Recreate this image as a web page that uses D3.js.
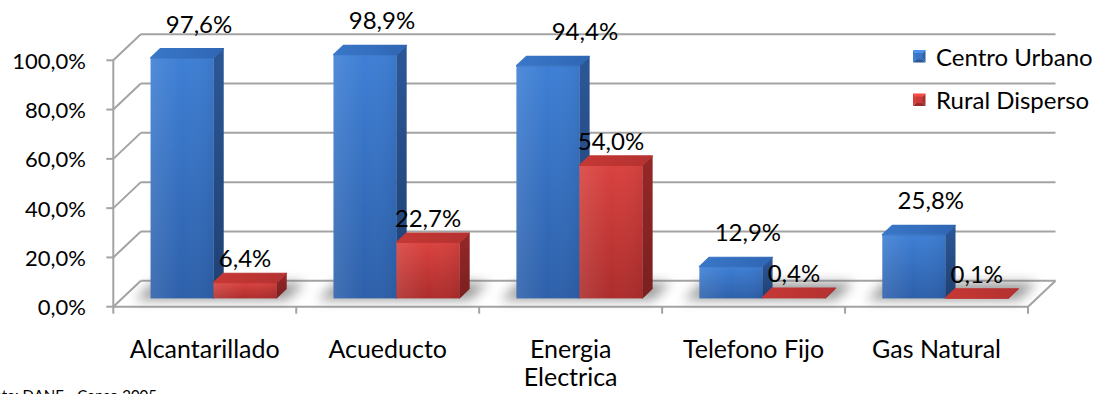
<!DOCTYPE html>
<html>
<head>
<meta charset="utf-8">
<script src="https://cdn.jsdelivr.net/npm/d3@7"></script>
<style>
  html, body { margin: 0; padding: 0; background: #ffffff; overflow: hidden; }
  svg { display: block; font-family: Lato, "Noto Sans", sans-serif; }
</style>
</head>
<body>
<svg id="chart" width="1103" height="394"></svg>
<script>
// ---- data ----
const categories = ["Alcantarillado", "Acueducto", "Energia Electrica", "Telefono Fijo", "Gas Natural"];
const categoryLabels = [["Alcantarillado"], ["Acueducto"], ["Energia", "Electrica"], ["Telefono Fijo"], ["Gas Natural"]];
const seriesNames = ["Centro Urbano", "Rural Disperso"];
const centroUrbano = [97.6, 98.9, 94.4, 12.9, 25.8];
const ruralDisperso = [6.4, 22.7, 54.0, 0.4, 0.1];
const yTicks = [0, 20, 40, 60, 80, 100];
const sourceText = "Fuente: DANE - Censo 2005";

// ---- layout ----
const svg = d3.select("#chart");
svg.append("rect").attr("width", 1103).attr("height", 394).attr("fill", "#fff");

const frontLeft = 113.3, frontRight = 1028;
const D = { x: 27.5, y: -26 };       // full floor depth vector
const t1 = 0.32, t2 = 0.68;           // bar front / back depth fractions
const gridColor = "#a3a3a3";

const x = d3.scaleBand().domain(categories).range([frontLeft, frontRight]).paddingInner(0).paddingOuter(0);
const xs = d3.scaleBand().domain(seriesNames).range([0, x.bandwidth()]).paddingInner(0).paddingOuter(0.4516);
const y = d3.scaleLinear().domain([0, 100]).range([306.7, 60.3]);

const fmt = v => d3.format(".1f")(v).replace(".", ",") + "%";

// ---- defs ----
const defs = svg.append("defs");
function lin(id, x1, y1, x2, y2, stops) {
  const g = defs.append("linearGradient").attr("id", id)
    .attr("x1", x1).attr("y1", y1).attr("x2", x2).attr("y2", y2);
  stops.forEach(s => g.append("stop").attr("offset", s[0]).attr("stop-color", s[1]));
}
lin("bFront", 0, 0, 0, 1, [[0, "#3e7fd5"], [1, "#2d60aa"]]);
lin("bFrontH", 0, 0, 1, 0, [[0, "rgba(255,255,255,0.10)"], [0.5, "rgba(255,255,255,0)"], [1, "rgba(0,0,0,0.06)"]]);
lin("bSide", 0, 0, 0, 1, [[0, "#2c5797"], [1, "#1f4072"]]);
lin("bTop", 0, 0, 1, 0, [[0, "#3a77c8"], [1, "#2f66b4"]]);
lin("rFront", 0, 0, 0, 1, [[0, "#d9423f"], [1, "#ac2d2c"]]);
lin("rSide", 0, 0, 0, 1, [[0, "#962828"], [1, "#7a1f1f"]]);
lin("rTop", 0, 0, 1, 0, [[0, "#c63835"], [1, "#b33231"]]);
const blur = defs.append("filter").attr("id", "shadowBlur").attr("x", "-50%").attr("y", "-200%").attr("width", "200%").attr("height", "500%");
blur.append("feGaussianBlur").attr("stdDeviation", 6);

const colors = {
  "Centro Urbano": { front: "url(#bFront)", side: "url(#bSide)", top: "url(#bTop)", base: "#3a75c4" },
  "Rural Disperso": { front: "url(#rFront)", side: "url(#rSide)", top: "url(#rTop)", base: "#c93b38" }
};

// ---- walls & gridlines ----
const grid = svg.append("g").attr("stroke", gridColor).attr("stroke-width", 2).attr("fill", "none");
yTicks.forEach(t => {
  const yy = y(t);
  grid.append("line").attr("x1", frontLeft).attr("y1", yy).attr("x2", frontLeft + D.x).attr("y2", yy + D.y);
  grid.append("line").attr("x1", frontLeft + D.x).attr("y1", yy + D.y).attr("x2", frontRight + D.x).attr("y2", yy + D.y);
  grid.append("line").attr("x1", frontLeft - 7).attr("y1", yy).attr("x2", frontLeft).attr("y2", yy);
});
grid.append("line").attr("x1", frontLeft).attr("y1", y(100)).attr("x2", frontLeft).attr("y2", y(0));
grid.append("line").attr("x1", frontLeft).attr("y1", y(0)).attr("x2", frontRight).attr("y2", y(0));
grid.append("line").attr("x1", frontRight).attr("y1", y(0)).attr("x2", frontRight + D.x).attr("y2", y(0) + D.y);
categories.map(c => x(c)).concat([frontRight]).forEach(xx => {
  grid.append("line").attr("x1", xx).attr("y1", y(0)).attr("x2", xx).attr("y2", y(0) + 7);
});

// ---- y tick labels ----
svg.append("g").selectAll("text").data(yTicks).join("text")
  .attr("x", 86).attr("y", d => y(d) + 8.5)
  .attr("text-anchor", "end").attr("font-size", 22).attr("fill", "#000")
  .text(d => fmt(d));

// ---- shadows on the floor ----
const shadowG = svg.append("g").attr("filter", "url(#shadowBlur)").attr("opacity", 0.7);
categories.forEach(c => {
  const x0 = x(c) + xs(seriesNames[0]) - 14, x1 = x(c) + xs(seriesNames[1]) + xs.bandwidth() + 12;
  const ta = 0.26, tb = 0.92, yb = y(0);
  const pts = [[x0 + D.x * ta, yb + D.y * ta], [x1 + D.x * ta, yb + D.y * ta], [x1 + D.x * tb, yb + D.y * tb], [x0 + D.x * tb, yb + D.y * tb]];
  shadowG.append("polygon").attr("points", pts.map(p => p.join(",")).join(" ")).attr("fill", "#707070");
});

// ---- bars ----
const barsG = svg.append("g");
function drawBar(g, x0, x1, v, col) {
  const yb = y(0), yt = y(v);
  const f = (xx, yy, t) => [xx + D.x * t, yy + D.y * t];
  const ftl = f(x0, yt, t1), ftr = f(x1, yt, t1), fbl = f(x0, yb, t1), fbr = f(x1, yb, t1);
  const btl = f(x0, yt, t2), btr = f(x1, yt, t2), bbr = f(x1, yb, t2);
  const poly = pts => pts.map(p => p.join(",")).join(" ");
  g.append("polygon").attr("points", poly([ftr, btr, bbr, fbr])).attr("fill", col.side)
    .attr("stroke", col.side).attr("stroke-width", 0.5).attr("stroke-linejoin", "round");
  const h = Math.max(0.5, fbl[1] - ftl[1]);
  g.append("rect").attr("x", ftl[0]).attr("y", ftl[1]).attr("width", ftr[0] - ftl[0]).attr("height", h).attr("fill", col.front);
  g.append("rect").attr("x", ftl[0]).attr("y", ftl[1]).attr("width", ftr[0] - ftl[0]).attr("height", h).attr("fill", "url(#bFrontH)");
  g.append("polygon").attr("points", poly([ftl, ftr, btr, btl])).attr("fill", col.top)
    .attr("stroke", col.top).attr("stroke-width", 1.2).attr("stroke-linejoin", "round");
  return { cx: (ftl[0] + ftr[0]) / 2, backTop: btl[1] };
}

const labels = [];
categories.forEach((c, i) => {
  [centroUrbano[i], ruralDisperso[i]].forEach((v, s) => {
    const name = seriesNames[s];
    const x0 = x(c) + xs(name), x1 = x0 + xs.bandwidth();
    const r = drawBar(barsG.append("g"), x0, x1, v, colors[name]);
    labels.push({ v, s, cat: c, cx: r.cx, backTop: r.backTop });
  });
});

// ---- data labels ----
// Excel pushed the "Energia Electrica" urban label further right (clear of the rural label)
const labelNudge = { "Energia Electrica": 20 };
svg.append("g").selectAll("text").data(labels).join("text")
  .attr("x", d => d.s === 0 ? d.cx + 17 + (labelNudge[d.cat] || 0) : d.cx)
  .attr("y", d => d.s === 0 ? d.backTop - 16 : d.backTop - 6)
  .attr("text-anchor", "middle").attr("font-size", 24).attr("fill", "#000")
  .text(d => fmt(d.v));

// ---- category labels ----
const catG = svg.append("g");
categories.forEach((c, i) => {
  const cx = x(c) + x.bandwidth() / 2;
  const t = catG.append("text").attr("x", cx).attr("y", 358)
    .attr("text-anchor", "middle").attr("font-size", 25).attr("fill", "#000");
  categoryLabels[i].forEach((line, k) => {
    t.append("tspan").attr("x", cx).attr("dy", k === 0 ? 0 : 28).text(line);
  });
});

// ---- legend ----
const leg = svg.append("g");
seriesNames.forEach((name, i) => {
  const lx = 913, ly = 50 + i * 43.5, s = 12.5;
  const g = leg.append("g");
  const base = colors[name].base;
  const c = d3.color(base);
  const cx = lx + s / 2, cy = ly + s / 2;
  const tri = (a, b, fill) => g.append("polygon")
    .attr("points", [a, b, [cx, cy]].map(p => p.join(",")).join(" ")).attr("fill", fill);
  tri([lx, ly], [lx + s, ly], c.brighter(0.6).formatHex());
  tri([lx + s, ly], [lx + s, ly + s], c.darker(0.5).formatHex());
  tri([lx + s, ly + s], [lx, ly + s], c.darker(0.8).formatHex());
  tri([lx, ly + s], [lx, ly], c.brighter(0.2).formatHex());
  g.append("rect").attr("x", lx + 3).attr("y", ly + 3).attr("width", s - 6).attr("height", s - 6).attr("fill", base);
  leg.append("text").attr("x", 936).attr("y", ly + 15.5).attr("font-size", 24).attr("fill", "#000").text(name);
});

// ---- source note (partly cut off, as in the original) ----
svg.append("text").attr("x", 157).attr("y", 401).attr("text-anchor", "end")
  .attr("font-size", 15).attr("fill", "#000").text(sourceText);
</script>
</body>
</html>
